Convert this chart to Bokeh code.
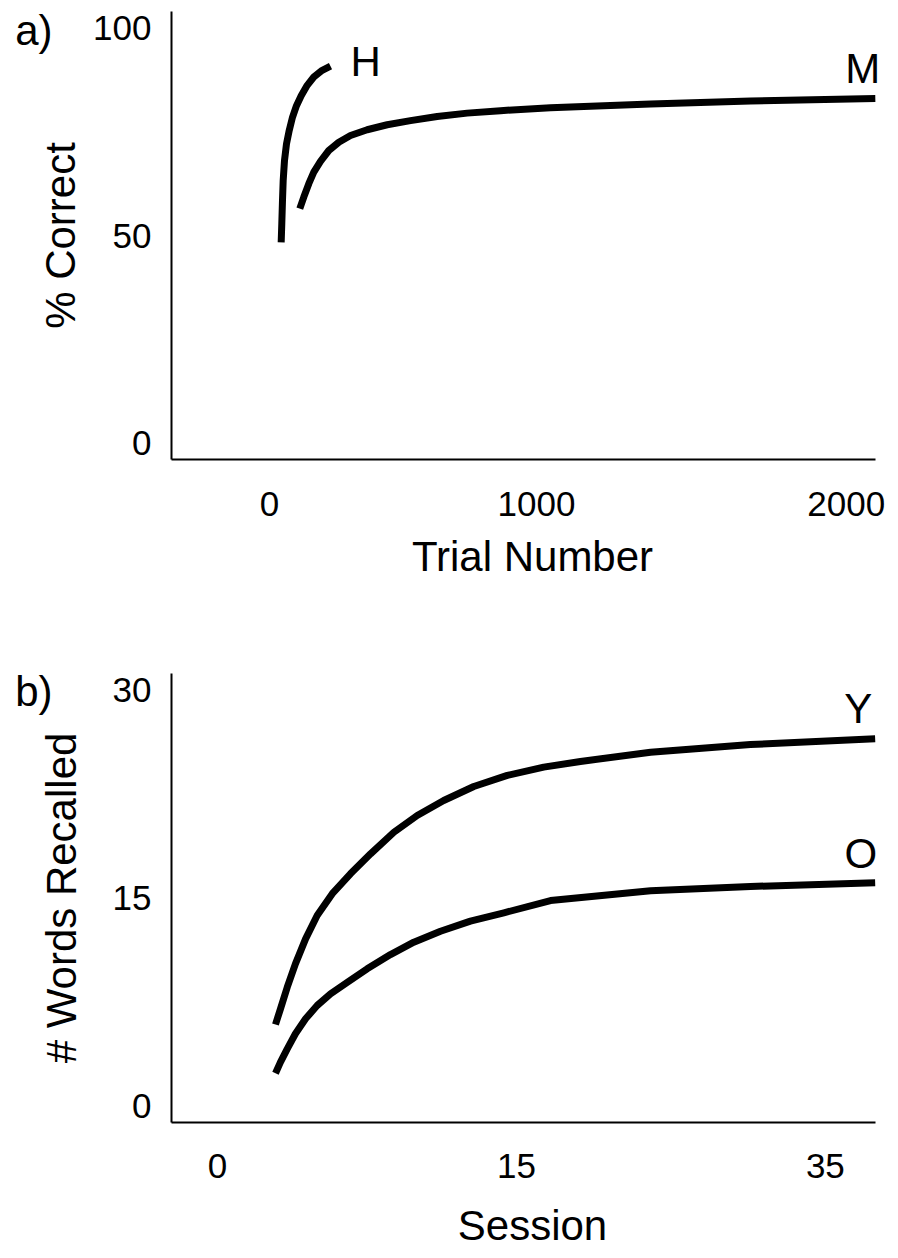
from bokeh.plotting import figure
from bokeh.models import Range1d, FixedTicker, Label, LinearAxis
from bokeh.layouts import column
from bokeh.embed import file_html
from bokeh.resources import INLINE

FONT = "Liberation Sans"

# ---------------- panel a data ----------------
trial_H = [43.8, 46.1, 48.7, 51.3, 56.2, 63.7, 73.8, 86.1, 101.1, 118.7, 141.2, 165.9, 197.4, 228.5]
pct_H = [48.4, 52.9, 58.5, 63.3, 68.1, 72.1, 75.3, 78.5, 81.3, 83.7, 86.2, 88.2, 89.8, 90.8]
trial_M = [113.5, 128.5, 147.2, 165.9, 191.0, 222.1, 259.6, 303.4, 365.9, 440.8, 528.1, 628.1,
           740.4, 865.2, 1052.4, 1427.0, 1801.5, 2269.0]
pct_M = [56.5, 59.3, 62.5, 65.3, 67.9, 70.5, 72.5, 74.1, 75.5, 76.7, 77.7, 78.7,
         79.5, 80.1, 80.8, 81.7, 82.4, 83.0]
a_x_tick_pos = [0, 1000, 2160]
a_x_tick_labels = ["0", "1000", "2000"]
a_y_tick_pos = [0, 50, 100]
a_y_tick_labels = ["0", "50", "100"]

# ---------------- panel b data ----------------
sess_Y = [2.91, 3.16, 3.50, 3.91, 4.42, 5.00, 5.76, 6.67, 7.68, 8.85, 10.02, 11.35, 12.86,
          14.54, 16.37, 18.21, 21.73, 26.74, 33.0]
words_Y = [5.85, 6.98, 8.54, 10.23, 12.03, 13.72, 15.29, 16.73, 18.17, 19.73, 20.94, 22.02, 23.03,
           23.83, 24.43, 24.84, 25.51, 26.06, 26.48]
sess_O = [2.91, 3.16, 3.50, 3.91, 4.42, 5.00, 5.67, 6.51, 7.51, 8.68, 9.85, 11.19, 12.69,
          14.37, 16.71, 21.73, 26.74, 33.0]
words_O = [2.33, 3.13, 4.09, 5.18, 6.26, 7.22, 8.06, 8.89, 9.87, 10.90, 11.79, 12.58, 13.31,
           13.91, 14.80, 15.50, 15.81, 16.08]
b_x_tick_pos = [0, 15, 30.5]
b_x_tick_labels = ["0", "15", "35"]
b_y_tick_pos = [0, 15, 30]
b_y_tick_labels = ["0", "15", "30"]

# panel tags (placed at the top-left, outside the axes)
a_tag_pos = [99.5]
b_tag_pos = [29.86]


def make_panel(height, border_top, border_bottom, xr, x_axis_end, yr, xt, xl, yt, yl,
               xlabel, ylabel, x_std, x_lab_std, y_std, y_lab_std):
    p = figure(width=898, height=height, x_range=Range1d(*xr), y_range=Range1d(*yr),
               output_backend="svg", toolbar_location=None,
               min_border_left=171, min_border_right=5,
               min_border_top=border_top, min_border_bottom=border_bottom)
    p.outline_line_color = None
    p.xgrid.visible = False
    p.ygrid.visible = False
    p.background_fill_color = "white"
    p.border_fill_color = "white"
    p.xaxis[0].bounds = (xr[0], x_axis_end)
    for ax, ticks, labels, std, lstd, title in ((p.xaxis[0], xt, xl, x_std, x_lab_std, xlabel),
                                                (p.yaxis[0], yt, yl, y_std, y_lab_std, ylabel)):
        ax.ticker = FixedTicker(ticks=ticks)
        ax.major_label_overrides = {t: l for t, l in zip(ticks, labels)}
        ax.major_tick_line_color = None
        ax.minor_tick_line_color = None
        ax.major_tick_out = 0
        ax.major_tick_in = 0
        ax.axis_line_color = "black"
        ax.axis_line_width = 2
        ax.major_label_text_font = FONT
        ax.major_label_text_font_size = "35px"
        ax.major_label_text_color = "black"
        ax.major_label_standoff = std
        ax.axis_label = title
        ax.axis_label_text_font = FONT
        ax.axis_label_text_font_size = "42px"
        ax.axis_label_text_font_style = "normal"
        ax.axis_label_text_color = "black"
        ax.axis_label_standoff = lstd
    return p


def panel_tag(p, pos, text, standoff):
    tag = LinearAxis(ticker=FixedTicker(ticks=pos), major_label_overrides={pos[0]: text},
                     axis_line_color=None, major_tick_line_color=None, minor_tick_line_color=None,
                     major_tick_out=0, major_tick_in=0, major_label_standoff=standoff,
                     major_label_text_font=FONT, major_label_text_font_size="42px",
                     major_label_text_color="black")
    p.add_layout(tag, "left")


def curve_label(p, xs, ys, text, align, dx, dy):
    p.add_layout(Label(x=xs[-1], y=ys[-1], text=text, x_offset=dx, y_offset=dy,
                       text_align=align, text_baseline="alphabetic",
                       text_font=FONT, text_font_size="42px", text_color="black"))


# panel a  (frame: x 171..893 px, y 11..459 px; axis line ends at 875 px)
pa = make_panel(616, 11, 157, (-367.0, 2337.1), 2269.7, (-3.90, 103.97),
                a_x_tick_pos, a_x_tick_labels, a_y_tick_pos, a_y_tick_labels,
                "Trial Number", "% Correct", 32, 14, 20, 6)
pa.line(trial_H, pct_H, line_width=7, line_color="black", line_join="round")
pa.line(trial_M, pct_M, line_width=7, line_color="black", line_join="round")
curve_label(pa, trial_H, pct_H, "H", "left", 20, 5)
curve_label(pa, trial_M, pct_M, "M", "right", 5, 30)
panel_tag(pa, a_tag_pos, "a)", -18)

# panel b
pb = make_panel(642, 57, 136, (-2.308, 33.92), 33.015, (-1.227, 31.19),
                b_x_tick_pos, b_x_tick_labels, b_y_tick_pos, b_y_tick_labels,
                "Session", "# Words Recalled", 31, 21, 20, 25)
pb.line(sess_Y, words_Y, line_width=7, line_color="black", line_join="round")
pb.line(sess_O, words_O, line_width=7, line_color="black", line_join="round")
curve_label(pb, sess_Y, words_Y, "Y", "right", -3, 30)
curve_label(pb, sess_O, words_O, "O", "right", 2, 29)
panel_tag(pb, b_tag_pos, "b)", -18)

layout = column(pa, pb, spacing=0)
open("out.html", "w").write(file_html(layout, INLINE))
